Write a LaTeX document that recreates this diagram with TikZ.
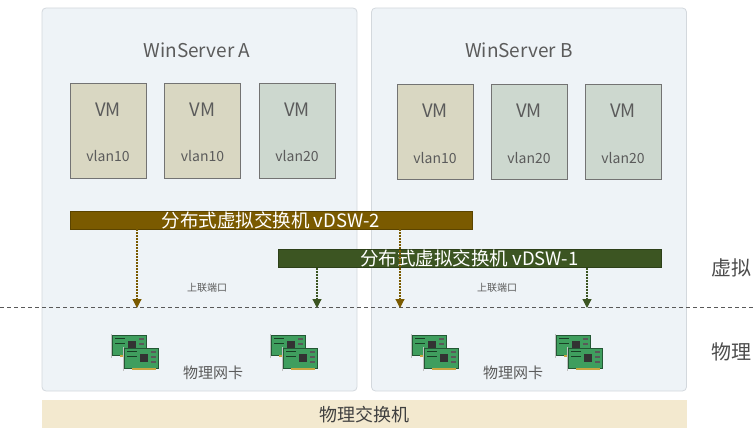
\documentclass[tikz,border=0pt]{standalone}
\usepackage{fontspec}
\setmainfont{Noto Sans CJK SC}
\usetikzlibrary{positioning,arrows.meta}

\definecolor{srvfill}{HTML}{EEF3F7}
\definecolor{srvline}{HTML}{D3D8DD}
\definecolor{vten}{HTML}{D9D7C2}
\definecolor{vtwenty}{HTML}{CDD8CF}
\definecolor{dswtwo}{HTML}{7A5A00}
\definecolor{dswone}{HTML}{3C5522}
\definecolor{txt}{HTML}{5B5B5B}
\definecolor{pswfill}{HTML}{F3E9CF}
\definecolor{cardgreen}{HTML}{3F9E5E}
\definecolor{cardgold}{HTML}{C8A640}

\tikzset{
  server/.style={draw=srvline,fill=srvfill,rounded corners=4pt,line width=0.8pt,
    minimum width=315pt,minimum height=383pt},
  vm/.style={draw=black!55,fill=#1,line width=0.8pt,minimum width=76pt,minimum height=95pt},
  bar/.style={fill=#1,draw=#1!75!black,text=white,inner sep=0pt,
    minimum height=18pt,font=\fontsize{18.5}{18.5}\selectfont},
  uplink/.style={draw=#1,line width=1.2pt,dash pattern=on 2pt off 1pt,
    -{Triangle[width=9pt,length=9pt,fill=#1]}},
  lbl/.style={text=txt,inner sep=0pt},
  nic/.pic={
    \foreach \d in {0,1}{
      \begin{scope}[shift={(\d*12,\d*13)}]
        \draw[black!25,line width=0.6pt] (-26,-18) -- (-26,6);
        \filldraw[fill=cardgreen,draw=cardgreen!55!black,line width=0.5pt] (-25,-17) rectangle (9,3);
        \fill[cardgold] (-17,3) rectangle (7,5);
        \fill[black!80] (-9,-11) rectangle (-1,-3);
        \foreach \k in {0,1,2}
          \fill[black!65] (2,-14+\k*5) rectangle (7,-12+\k*5);
        \draw[cardgreen!40!black,line width=0.4pt] (-22,-14) -- (-12,-14) (-22,-9) -- (-12,-9);
      \end{scope}}
  }
}

\begin{document}
\begin{tikzpicture}[x=1pt,y=-1pt]
\useasboundingbox (0,0) rectangle (755,428);

% hosts
\node[server] (srvA) at (199.5,199.5) {};
\node[server] (srvB) at (529,199.5) {};
\node[lbl,font=\fontsize{19}{19}\selectfont] (tA) at (197,50) {WinServer A};
\node[lbl,font=\fontsize{19}{19}\selectfont] (tB) at (519,50) {WinServer B};

% virtual machines
\foreach \x/\c/\v [count=\i] in {108/vten/10,202.5/vten/10,297/vtwenty/20}{
  \node[vm=\c] (a\i) at (\x,130.5) {};
  \node[lbl,font=\fontsize{18.5}{18.5}\selectfont] at ([yshift=-27pt]a\i.north) {VM};
  \node[lbl,font=\fontsize{14}{14}\selectfont] at ([yshift=22pt]a\i.south) {vlan\v};
}
\foreach \x/\c/\v [count=\i] in {435/vten/10,529/vtwenty/20,623/vtwenty/20}{
  \node[vm=\c] (b\i) at (\x,132) {};
  \node[lbl,font=\fontsize{18.5}{18.5}\selectfont] at ([yshift=-27pt]b\i.north) {VM};
  \node[lbl,font=\fontsize{14}{14}\selectfont] at ([yshift=22pt]b\i.south) {vlan\v};
}

% distributed switches
\node[bar=dswtwo,minimum width=402pt] (dsw2) at (271,220) {分布式虚拟交换机 vDSW-2};
\node[bar=dswone,minimum width=383pt] (dsw1) at (469.5,258.5) {分布式虚拟交换机 vDSW-1};

% virtual / physical boundary
\coordinate (l) at (0,307);
\coordinate (r) at (755,307);
\draw[black!65,line width=0.8pt,dash pattern=on 4pt off 3pt] (l) -- (r);

\coordinate (u1) at (137,308);
\coordinate (u2) at (317,308);
\coordinate (u3) at (400,308);
\coordinate (u4) at (587,308);
\draw[uplink=dswtwo] (dsw2.south -| u1) -- (u1);
\draw[uplink=dswtwo] (dsw2.south -| u3) -- (u3);
\draw[uplink=dswone] (dsw1.south -| u2) -- (u2);
\draw[uplink=dswone] (dsw1.south -| u4) -- (u4);

\node[lbl,font=\fontsize{10}{10}\selectfont] (upA) at (207,288) {上联端口};
\node[lbl,font=\fontsize{10}{10}\selectfont] (upB) at (497,288) {上联端口};

\node[lbl,text=black!70,font=\fontsize{20}{20}\selectfont] (virt) at (731,268) {虚拟};
\node[lbl,text=black!70,font=\fontsize{20}{20}\selectfont] (phys) at (731,352) {物理};

% physical NICs
\foreach \x in {137,296,437,581}
  \pic at (\x,352) {nic};
\node[lbl,font=\fontsize{15}{15}\selectfont] (nicA) at (213,373) {物理网卡};
\node[lbl,font=\fontsize{15}{15}\selectfont] (nicB) at (513,373) {物理网卡};

% physical switch
\node[fill=pswfill,minimum width=645pt,minimum height=30pt,inner sep=0pt,
  text=black!75,font=\fontsize{18}{18}\selectfont] (psw) at (364.5,415) {物理交换机};
\end{tikzpicture}
\end{document}
